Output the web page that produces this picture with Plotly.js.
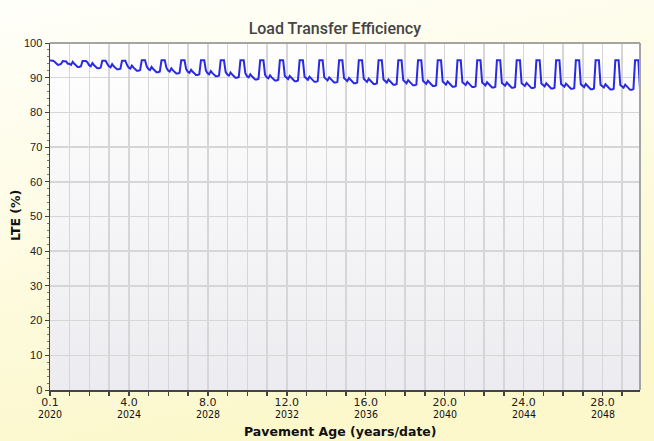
<!DOCTYPE html>
<html><head><meta charset="utf-8">
<script src="https://cdn.plot.ly/plotly-3.0.1.min.js"></script>
<style>html,body{margin:0;padding:0;background:#fdfbe0;} #chart{width:654px;height:441px;}</style>
</head><body><div id="chart"></div>
<script>
const chartTitle = "Load Transfer Efficiency";
const xTitle = "Pavement Age (years/date)";
const yTitle = "LTE (%)";
const samplesPerYear = 12;

// Monthly LTE (%), one row per pavement year (months 1..12 of that year)
const lte = [
  95.0, 95.0, 94.9, 94.6, 94.0, 93.7, 93.8, 94.0, 94.8, 94.8, 94.7, 94.0,
  94.0, 93.7, 94.6, 94.0, 93.4, 93.1, 93.1, 93.3, 94.8, 94.8, 94.8, 94.4,
  93.6, 93.3, 94.2, 93.6, 93.0, 92.7, 92.7, 92.9, 94.9, 94.9, 94.9, 94.0,
  93.3, 93.0, 93.9, 93.3, 92.7, 92.4, 92.4, 92.6, 94.9, 94.9, 94.9, 93.7,
  92.9, 92.6, 93.5, 92.9, 92.3, 92.0, 92.0, 92.2, 95.0, 95.0, 95.0, 93.3,
  92.5, 92.2, 93.1, 92.5, 91.9, 91.6, 91.6, 91.8, 95.0, 95.0, 95.0, 92.9,
  92.1, 91.8, 92.7, 92.1, 91.5, 91.2, 91.2, 91.4, 95.0, 95.0, 95.0, 92.5,
  91.7, 91.4, 92.3, 91.7, 91.1, 90.8, 90.8, 91.0, 95.0, 95.0, 95.0, 92.1,
  91.3, 91.0, 91.9, 91.3, 90.7, 90.4, 90.4, 90.6, 95.0, 95.0, 95.0, 91.7,
  90.9, 90.6, 91.5, 90.9, 90.3, 90.0, 90.0, 90.2, 95.0, 95.0, 95.0, 91.3,
  90.4, 90.1, 91.0, 90.4, 89.8, 89.5, 89.5, 89.7, 95.0, 95.0, 95.0, 90.8,
  90.1, 89.8, 90.7, 90.1, 89.5, 89.2, 89.2, 89.4, 95.0, 95.0, 95.0, 90.5,
  89.9, 89.6, 90.5, 89.9, 89.3, 89.0, 89.0, 89.2, 95.0, 95.0, 95.0, 90.3,
  89.7, 89.4, 90.3, 89.7, 89.1, 88.8, 88.8, 89.0, 95.0, 95.0, 95.0, 90.1,
  89.5, 89.2, 90.1, 89.5, 88.9, 88.6, 88.6, 88.8, 95.0, 95.0, 95.0, 89.9,
  89.3, 89.0, 89.9, 89.3, 88.7, 88.4, 88.4, 88.6, 95.0, 95.0, 95.0, 89.7,
  89.1, 88.8, 89.7, 89.1, 88.5, 88.2, 88.2, 88.4, 95.0, 95.0, 95.0, 89.5,
  88.9, 88.6, 89.5, 88.9, 88.3, 88.0, 88.0, 88.2, 95.0, 95.0, 95.0, 89.3,
  88.7, 88.4, 89.3, 88.7, 88.1, 87.8, 87.8, 88.0, 95.0, 95.0, 95.0, 89.1,
  88.5, 88.2, 89.1, 88.5, 87.9, 87.6, 87.6, 87.8, 95.0, 95.0, 95.0, 88.9,
  88.3, 88.0, 88.9, 88.3, 87.7, 87.4, 87.4, 87.6, 95.0, 95.0, 95.0, 88.7,
  88.2, 87.9, 88.8, 88.2, 87.6, 87.3, 87.3, 87.5, 95.0, 95.0, 95.0, 88.6,
  88.1, 87.8, 88.7, 88.1, 87.5, 87.2, 87.2, 87.4, 95.0, 95.0, 95.0, 88.5,
  88.0, 87.7, 88.6, 88.0, 87.4, 87.1, 87.1, 87.3, 95.0, 95.0, 95.0, 88.4,
  87.9, 87.6, 88.5, 87.9, 87.3, 87.0, 87.0, 87.2, 95.0, 95.0, 95.0, 88.3,
  87.8, 87.5, 88.4, 87.8, 87.2, 86.9, 86.9, 87.1, 95.0, 95.0, 95.0, 88.2,
  87.7, 87.4, 88.3, 87.7, 87.1, 86.8, 86.8, 87.0, 95.0, 95.0, 95.0, 88.1,
  87.6, 87.3, 88.2, 87.6, 87.0, 86.7, 86.7, 86.9, 95.0, 95.0, 95.0, 88.0,
  87.5, 87.2, 88.1, 87.5, 86.9, 86.6, 86.6, 86.8, 95.0, 95.0, 95.0, 87.9,
  87.4, 87.1, 88.0, 87.4, 86.8, 86.5, 86.5, 86.7, 95.0, 95.0, 95.0, 86.6
];

const xTickPositions = [0.1, 4.1, 8.1, 12.1, 16.1, 20.1, 24.1, 28.1];
const xTickAges = ["0.1", "4.0", "8.0", "12.0", "16.0", "20.0", "24.0", "28.0"];
const xTickYears = ["2020", "2024", "2028", "2032", "2036", "2040", "2044", "2048"];
const yTickValues = [0, 10, 20, 30, 40, 50, 60, 70, 80, 90, 100];

const ages = lte.map((v, i) => (i + 1) / samplesPerYear);

// yearly grid ticks; only some of them carry labels
const gridTicks = [], gridText = [];
for (let k = 0; k < 30; k++) {
  const p = +(0.1 + k).toFixed(1);
  gridTicks.push(p);
  const idx = xTickPositions.indexOf(p);
  gridText.push(idx >= 0 ? xTickAges[idx] : '');
}

const plotGrad = 'data:image/svg+xml;utf8,' + encodeURIComponent(
  '<svg xmlns="http://www.w3.org/2000/svg" width="10" height="100" preserveAspectRatio="none"><defs><linearGradient id="g" x1="0" y1="0" x2="0" y2="1"><stop offset="0" stop-color="#ffffff"/><stop offset="1" stop-color="#ececf0"/></linearGradient></defs><rect width="10" height="100" fill="url(#g)"/></svg>');
const paperGrad = 'data:image/svg+xml;utf8,' + encodeURIComponent(
  '<svg xmlns="http://www.w3.org/2000/svg" width="100" height="100" preserveAspectRatio="none"><defs><linearGradient id="p" x1="0" y1="0" x2="0.3" y2="1"><stop offset="0" stop-color="#fffffa"/><stop offset="1" stop-color="#fcf8cc"/></linearGradient></defs><rect width="100" height="100" fill="url(#p)"/></svg>');

const trace = {
  x: ages, y: lte, type: 'scatter', mode: 'lines',
  line: {color: '#2a2ae6', width: 2},
  hoverinfo: 'x+y'
};

const L = 50, R = 14, T = 43, B = 51, W = 654, H = 441;
const pw = W - L - R, ph = H - T - B;

const yearAnnotations = xTickYears.map((yr, i) => ({
  text: yr, xref: 'x', yref: 'paper', x: xTickPositions[i], y: -(414 - (H - B)) / ph,
  xanchor: 'center', yanchor: 'middle', showarrow: false,
  font: {family: "'Liberation Sans Narrow', 'DejaVu Sans Condensed', Arial, sans-serif", size: 10.5, color: '#111'}
}));

const layout = {
  width: W, height: H,
  margin: {l: L, r: R, t: T, b: B, pad: 0},
  paper_bgcolor: '#fdfbe0',
  plot_bgcolor: 'rgba(0,0,0,0)',
  showlegend: false,
  title: {text: chartTitle, font: {family: 'Roboto, Liberation Sans, Arial, sans-serif', size: 16, weight: 500, color: '#444'},
          x: 0.512, xanchor: 'center', y: 1 - 28 / H, yanchor: 'middle', xref: 'container', yref: 'container'},
  xaxis: {
    range: [0.1, 30], tickmode: 'array', tickvals: gridTicks, ticktext: gridText,
    showgrid: true, gridcolor: '#d6d6d6', gridwidth: 1.5,
    zeroline: false, showline: true, linecolor: '#444', linewidth: 1.5,
    ticks: 'outside', ticklen: 4, tickcolor: '#444', tickwidth: 1.5,
    ticklabelstandoff: -3,
    tickfont: {family: 'DejaVu Sans, Verdana, sans-serif', size: 11, color: '#222'},
    fixedrange: true
  },
  yaxis: {
    range: [0, 100], tickmode: 'array', tickvals: yTickValues,
    showgrid: true, gridcolor: '#d6d6d6', gridwidth: 1.5,
    zeroline: false, showline: true, linecolor: '#444', linewidth: 1.5,
    ticks: 'outside', ticklen: 4, tickcolor: '#444', tickwidth: 1,
    minor: {dtick: 2, ticks: 'outside', ticklen: 2, tickcolor: '#777', showgrid: false},
    tickfont: {family: 'Liberation Sans, Arial, sans-serif', size: 11, color: '#222'},
    fixedrange: true
  },
  images: [
    {source: paperGrad, xref: 'paper', yref: 'paper', x: -L / pw, y: 1 + T / ph, sizex: W / pw, sizey: H / ph,
     sizing: 'stretch', layer: 'below', xanchor: 'left', yanchor: 'top'},
    {source: plotGrad, xref: 'paper', yref: 'paper', x: 0, y: 1, sizex: 1, sizey: 1,
     sizing: 'stretch', layer: 'below', xanchor: 'left', yanchor: 'top'}
  ],
  shapes: [
    {type: 'line', xref: 'paper', yref: 'paper', x0: 0, x1: 1, y0: 1, y1: 1, line: {color: '#a4a4a4', width: 2}, layer: 'above'},
    {type: 'line', xref: 'paper', yref: 'paper', x0: 1, x1: 1, y0: 0, y1: 1, line: {color: '#a4a4a4', width: 2}, layer: 'above'}
  ],
  annotations: yearAnnotations.concat([
    {text: '<b>' + xTitle + '</b>', xref: 'paper', yref: 'paper', x: (340 - L) / pw, y: -(431 - (H - B)) / ph,
     xanchor: 'center', yanchor: 'middle', showarrow: false,
     font: {family: 'DejaVu Sans, Verdana, sans-serif', size: 12.5, color: '#111'}},
    {text: '<b>' + yTitle + '</b>', xref: 'paper', yref: 'paper', x: (15 - L) / pw, y: ((H - B) - 216) / ph,
     xanchor: 'center', yanchor: 'middle', textangle: -90, showarrow: false,
     font: {family: 'DejaVu Sans, Verdana, sans-serif', size: 12.5, color: '#111'}}
  ])
};

Plotly.newPlot('chart', [trace], layout, {displayModeBar: false, staticPlot: true});
</script>
</body></html>
